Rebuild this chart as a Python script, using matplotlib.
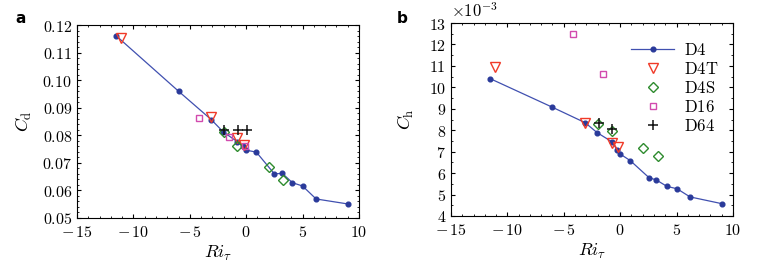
import numpy as np
import matplotlib
matplotlib.use("Agg")
import matplotlib.pyplot as plt
import matplotlib.ticker as mticker

plt.rcParams.update({
    "font.family": "serif",
    "mathtext.fontset": "cm",
    "font.size": 10,
    "axes.linewidth": 0.8,
    "xtick.direction": "in",
    "ytick.direction": "in",
    "xtick.top": True,
    "ytick.right": True,
    "xtick.minor.visible": True,
    "ytick.minor.visible": True,
    "xtick.major.size": 3,
    "ytick.major.size": 3,
    "xtick.minor.size": 1.5,
    "ytick.minor.size": 1.5,
    "xtick.major.pad": 4.5,
    "xtick.labelsize": 11.5,
    "ytick.labelsize": 11.5,
})

# D4 reference run (line)
d4_ri = [-11.5, -6.0, -3.1, -2.05, -0.8, -0.26, 0.0, 0.9, 2.5, 3.2, 4.1, 5.0, 6.2, 9.0]
d4_cd = [0.116, 0.096, 0.0857, 0.0813, 0.0777, 0.0761, 0.0746, 0.0739, 0.066, 0.0662,
         0.0628, 0.0616, 0.0569, 0.0551]
d4_ri_h = [-11.5, -6.0, -3.1, -2.05, -0.76, -0.26, 0.0, 0.9, 2.55, 3.2, 4.15, 5.04, 6.19, 9.05]
d4_ch = [10.4, 9.07, 8.35, 7.89, 7.47, 7.08, 6.89, 6.58, 5.79, 5.68, 5.38, 5.27, 4.89, 4.57]  # x1e-3

# D4T
d4t_ri = [-11.1, -3.1, -0.8, -0.2]
d4t_cd = [0.1152, 0.0865, 0.0792, 0.0766]
d4t_ri_h = [-11.1, -3.1, -0.76, -0.17]
d4t_ch = [10.96, 8.35, 7.39, 7.2]

# D4S
d4s_ri = [-2.0, -0.8, 2.05, 3.25]
d4s_cd = [0.0812, 0.0761, 0.0686, 0.0639]
d4s_ri_h = [-1.94, -0.73, 2.05, 3.33]
d4s_ch = [8.29, 7.96, 7.19, 6.8]

# D16
d16_ri = [-4.2, -1.5, -0.1]
d16_cd = [0.0862, 0.0793, 0.0761]
d16_ri_h = [-4.16, -1.5]
d16_ch = [12.49, 10.61]

# D64
d64_ri = [-2.0, -0.75, 0.05]
d64_cd = [0.0818, 0.0818, 0.0818]
d64_ri_h = [-1.9, -0.76]
d64_ch = [8.34, 8.06]

C_D4 = "#4050b0"
C_D4T = "#f03a28"
C_D4S = "#2e8b2e"
C_D16 = "#d24aae"
C_D64 = "#111111"


def math_fmt(fmt):
    return mticker.FuncFormatter(lambda v, _: "$" + (fmt % v).replace("-", "-\\,") + "$")


def draw(ax, x4, y4, xt, yt, xs, ys, x16, y16, x64, y64):
    ax.plot(x4, y4, color=C_D4, lw=0.9, marker="o", ms=3.4,
            mfc="#2a3a9a", mec="#2a3a9a", label=r"$\mathrm{D4}$", zorder=3)
    ax.plot(xt, yt, ls="none", marker="v", ms=6.5, mfc="none", mec=C_D4T,
            mew=1.0, label=r"$\mathrm{D4T}$", zorder=4)
    ax.plot(xs, ys, ls="none", marker="D", ms=4.8, mfc="none", mec=C_D4S,
            mew=1.0, label=r"$\mathrm{D4S}$", zorder=4)
    ax.plot(x16, y16, ls="none", marker="s", ms=5, mfc="none", mec=C_D16,
            mew=1.0, label=r"$\mathrm{D16}$", zorder=4)
    ax.plot(x64, y64, ls="none", marker="+", ms=7, color=C_D64,
            mew=1.1, label=r"$\mathrm{D64}$", zorder=5)
    ax.set_xlim(-15, 10)
    ax.xaxis.set_major_locator(mticker.MultipleLocator(5))
    ax.xaxis.set_minor_locator(mticker.MultipleLocator(1))
    ax.xaxis.set_major_formatter(math_fmt("%d"))
    ax.set_xlabel(r"$Ri_\tau$", fontsize=13, labelpad=2)


fig = plt.figure(figsize=(7.61, 2.71), dpi=100)
ax1 = fig.add_axes([0.1012, 0.1956, 0.3705, 0.712])
ax2 = fig.add_axes([0.5926, 0.203, 0.3706, 0.712])

draw(ax1, d4_ri, d4_cd, d4t_ri, d4t_cd, d4s_ri, d4s_cd, d16_ri, d16_cd, d64_ri, d64_cd)
ax1.set_ylim(0.05, 0.12)
ax1.yaxis.set_major_locator(mticker.MultipleLocator(0.01))
ax1.yaxis.set_minor_locator(mticker.MultipleLocator(0.002))
ax1.yaxis.set_major_formatter(math_fmt("%.2f"))
ax1.set_ylabel(r"$C_\mathrm{d}$", fontsize=13, labelpad=6)

draw(ax2, d4_ri_h, d4_ch, d4t_ri_h, d4t_ch, d4s_ri_h, d4s_ch, d16_ri_h, d16_ch,
     d64_ri_h, d64_ch)
ax2.set_ylim(4, 13)
ax2.yaxis.set_major_locator(mticker.MultipleLocator(1))
ax2.yaxis.set_minor_locator(mticker.MultipleLocator(0.5))
ax2.yaxis.set_major_formatter(math_fmt("%d"))
ax2.set_ylabel(r"$C_\mathrm{h}$", fontsize=13, labelpad=9)
ax2.text(0.0, 1.01, r"$\times 10^{-3}$", transform=ax2.transAxes, fontsize=12,
         ha="left", va="bottom")
ax2.legend(loc="upper right", bbox_to_anchor=(0.985, 0.955), frameon=False, fontsize=12,
           handlelength=2.6, labelspacing=0.12, borderaxespad=0.2, handletextpad=0.6)

fig.text(0.02, 0.915, "a", fontsize=11, fontweight="bold", family="DejaVu Sans")
fig.text(0.522, 0.915, "b", fontsize=11, fontweight="bold", family="DejaVu Sans")

fig.savefig("out.png", dpi=100)
